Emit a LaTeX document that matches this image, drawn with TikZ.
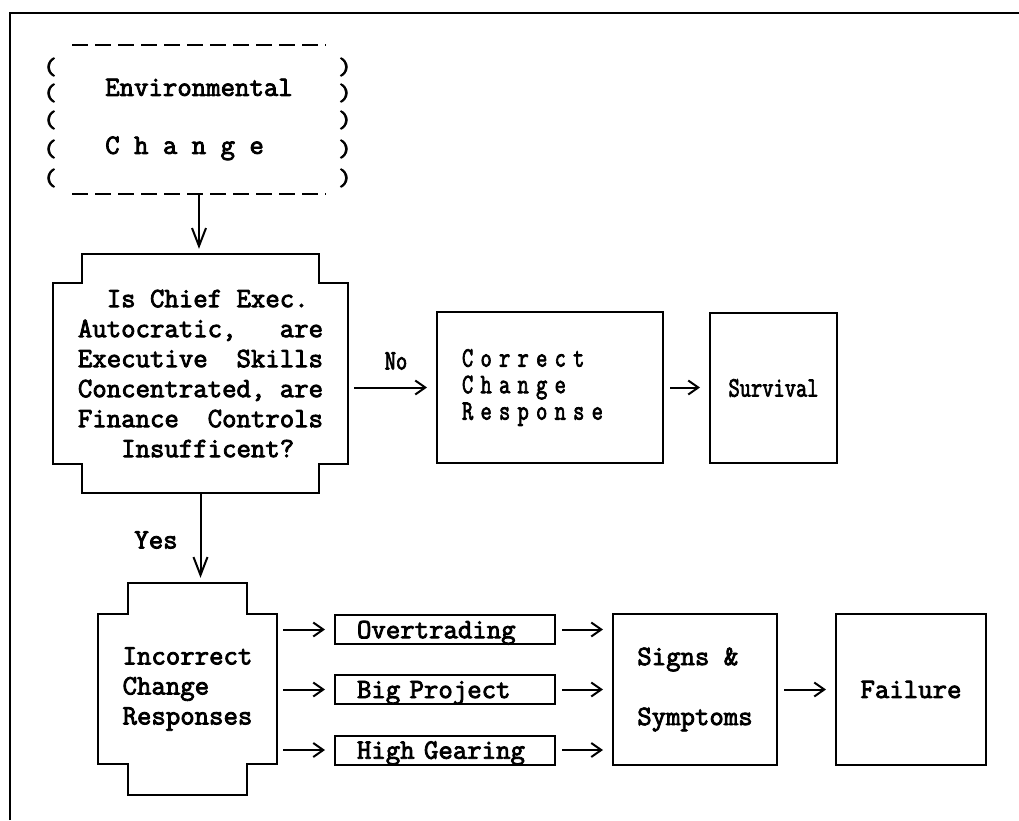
\documentclass[tikz,border=0pt]{standalone}
\usepackage{fontspec}
\usepackage{graphicx}
\usetikzlibrary{arrows.meta,calc}

% heavy typewriter face at the normal pitch, and a narrower pitch
\newfontfamily\typewriter{Latin Modern Mono}[FakeBold=3]
\newcommand\typed{\typewriter\fontsize{28pt}{30pt}\selectfont}
\newcommand\narrow[1]{\scalebox{0.78}[1]{#1}}
\newcommand\paren[1]{\scalebox{0.95}[0.85]{#1}}

\tikzset{
  every node/.style={font=\typed, inner sep=0pt},
  frameline/.style={line width=2.4pt},
  boxline/.style={line width=2pt},
  dashline/.style={line width=2pt, dash pattern=on 16pt off 7pt},
  plainbox/.style={draw, line width=2pt, inner sep=0pt},
  smallbox/.style={draw, line width=2pt, minimum width=220pt, minimum height=29pt,
    text width=176pt, inner xsep=22pt, inner ysep=0pt, align=left, text depth=0pt},
  arr/.style={line width=2pt, -{Straight Barb[length=10pt,width=14pt]},
    shorten <=6pt, shorten >=9pt},
  darr/.style={line width=2pt, -{Straight Barb[length=18pt,width=14pt]},
    shorten >=5pt},
}

% box with notched corners around a node: #1 node, #2 notch width, #3 notch height
\newcommand\notchbox[3]{%
  \draw[boxline] ($(#1.north west)+(#2,0)$) -- ($(#1.north east)+(-#2,0)$)
    -- ($(#1.north east)+(-#2,#3)$) -- ($(#1.north east)+(0,#3)$)
    -- ($(#1.south east)+(0,-#3)$) -- ($(#1.south east)+(-#2,-#3)$)
    -- ($(#1.south east)+(-#2,0)$) -- ($(#1.south west)+(#2,0)$)
    -- ($(#1.south west)+(#2,-#3)$) -- ($(#1.south west)+(0,-#3)$)
    -- ($(#1.north west)+(0,#3)$) -- ($(#1.north west)+(#2,#3)$) -- cycle;}

\begin{document}
\begin{tikzpicture}[x=1pt,y=-1pt]
\useasboundingbox (0,0) rectangle (1019,820);

% page frame
\draw[frameline] (10,820) -- (10,13) -- (1019,13);

% environmental change
\node (env) [minimum width=253pt, minimum height=149pt, align=left] at (199,119.5)
  {Environmental\\[28pt]C h a n g e};
\draw[dashline] (env.north west) -- (env.north east);
\draw[dashline] (env.south west) -- (env.south east);
\foreach \r/\yy in {1/67,2/93,3/120,4/149,5/178} {
  \node (lp\r) at (50,\yy) {\paren{(}};
  \node (rp\r) at (345,\yy) {\paren{)}};
}

% decision
\node (dec) [minimum width=295pt, minimum height=239pt, align=left] at (200.5,373.5)
  {~~Is Chief Exec.\\Autocratic,~~~are\\Executive~~Skills\\Concentrated, are\\Finance~~Controls\\~~~Insufficent?};
\notchbox{dec}{29}{29}

% correct branch
\node (cor) [plainbox, minimum width=226pt, minimum height=151pt, text width=176pt,
  inner xsep=25pt, align=left] at (550,387.5)
  {\narrow{C o r r e c t}\\[-3.5pt]\narrow{C h a n g e}\\[-3.5pt]\narrow{R e s p o n s e}};
\node (surv) [plainbox, minimum width=127pt, minimum height=150pt]
  at (773.5,388) {\narrow{Survival}};

% incorrect branch
\node (inc) [minimum width=179pt, minimum height=212pt, align=left] at (187.5,689)
  {Incorrect\\Change\\Responses};
\notchbox{inc}{30}{31}

\node (ov) [smallbox] at (445,629.5) {Overtrading};
\node (bp) [smallbox] at (445,689.5) {Big Project};
\node (hg) [smallbox] at (445,750) {High Gearing};

\node (sig) [plainbox, minimum width=164pt, minimum height=151pt, align=left]
  at (695,689.5) {Signs \&\\[30pt]Symptoms};
\node (fail) [plainbox, minimum width=150pt, minimum height=151pt]
  at (911,689.5) {Failure};

% labels
\node (lno) at (396,361) {\narrow{No}};
\node (lyes) at (156,540) {Yes};

% connectors
\draw[darr] (env.south) -- (env.south |- dec.north);
\draw[darr] (dec.south) -- (dec.south |- inc.north);
\draw[arr] (dec.east |- cor.west) -- (cor.west);
\draw[arr] (cor.east) -- (cor.east -| surv.west);
\foreach \b in {ov,bp,hg} {
  \draw[arr] (inc.east |- \b.west) -- (\b.west);
  \draw[arr] (\b.east) -- (\b.east -| sig.west);
}
\draw[arr] (sig.east) -- (fail.west);
\end{tikzpicture}
\end{document}
